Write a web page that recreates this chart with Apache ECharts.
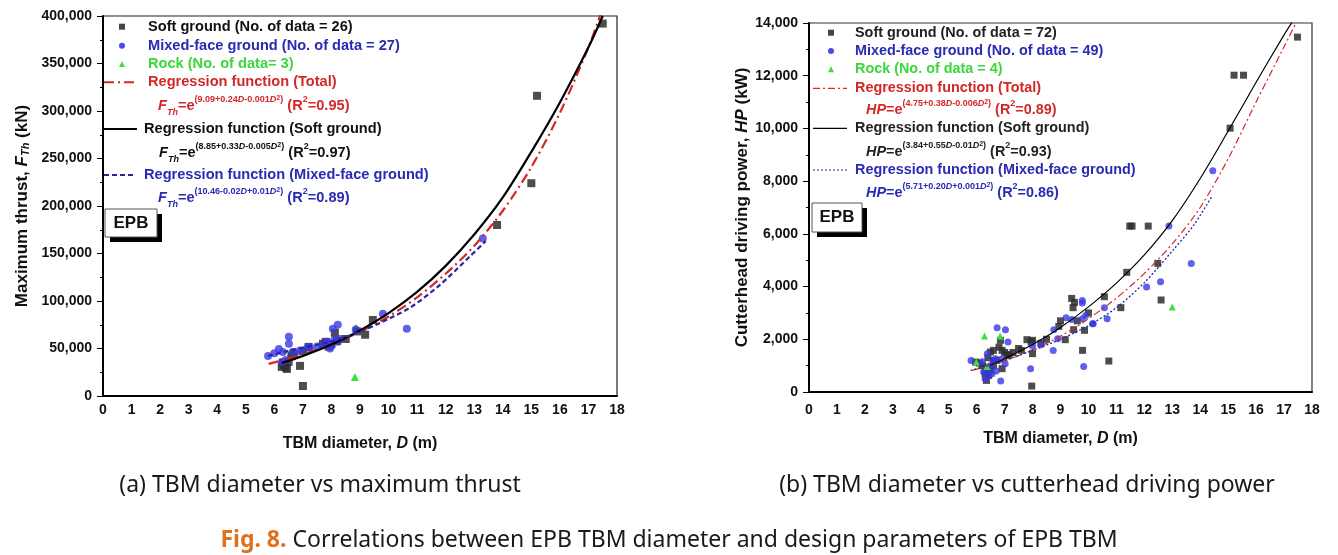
<!DOCTYPE html>
<html><head><meta charset="utf-8">
<script src="https://cdn.jsdelivr.net/npm/echarts@6/dist/echarts.min.js"></script>
<style>html,body{margin:0;padding:0;background:#fff}#c{width:1338px;height:555px}</style>
</head><body><div id="c"></div>
<script>
// ---------- data: (a) TBM diameter vs maximum thrust ----------
const thrustSoft = [[17.5,392000],[15.2,316000],[15.0,224000],[13.8,180000],[9.45,80000],[9.18,64500],[8.12,66500],[6.9,31700],[7.0,10500],[6.26,30600],[6.44,28500],[6.34,32700],[7.2,51700],[6.5,36000],[8.0,55000],[7.9,52000],[7.8,57000],[6.6,42000],[8.2,58000],[7.0,47000],[6.3,35000],[8.5,60000],[6.7,44000],[6.4,30000],[8.9,68000],[7.7,55000]];
const thrustMixed = [[5.78,42200],[6.16,49600],[6.3,46400],[6.51,62300],[6.51,54900],[6.65,46400],[7.18,51700],[7.25,50600],[7.84,57000],[7.9,55000],[8.0,53000],[8.05,70700],[8.22,74900],[8.22,57000],[9.8,86500],[10.64,70700],[6.27,35900],[13.3,165700],[7.95,50000],[8.1,59000],[6.4,38000],[7.7,54000],[8.3,60000],[6.9,48000],[7.5,52000],[6.0,45000],[8.85,70000]];
const thrustRock = [[8.86,71800],[8.82,20000],[6.58,46400]];
const thrustRegTotal = [[5.8,33800],[7,43800],[8,54300],[9,67500],[10,83700],[11,103800],[12,128700],[13,158000],[14,195000],[15,241000],[16,298000],[17,367000],[17.45,404000]];
const thrustRegSoft = [[6.27,34900],[7,42200],[8,54200],[9,69000],[10,87300],[11,109600],[12,137000],[13,170000],[14,209000],[15,257000],[16,309000],[17,367000],[17.5,400000]];
const thrustRegMixed = [[5.78,42200],[6.8,49600],[7.95,57000],[8.9,66500],[9.7,77000],[10.75,93000],[11.8,117000],[12.85,147000],[13.4,163000]];

// ---------- data: (b) TBM diameter vs cutterhead driving power ----------
const powerSoft = [[17.48,13465],[15.21,12020],[15.55,12020],[15.07,10010],[11.48,6295],[11.56,6295],[12.14,6295],[12.48,4880],[11.37,4540],[10.57,3615],[11.16,3200],[12.6,3490],[9.86,2340],[9.79,1580],[10.73,1175],[9.45,3200],[9.4,3550],[9.5,3400],[9.17,1985],[9.47,2365],[8.94,2490],[8.0,1960],[7.95,1895],[7.8,1985],[8.0,1455],[7.97,225],[7.6,1580],[7.16,1425],[6.85,1960],[6.91,1580],[6.6,1580],[6.49,1515],[6.91,885],[6.35,440],[6.43,630],[6.73,1200],[7.09,1390],[5.96,1135],[6.35,945],[6.6,1200],[6.2,1000],[6.5,800],[7.3,1500],[8.5,2000],[9.0,2700],[9.6,2700],[10.0,3000],[6.8,1700],[7.0,1500],[6.3,700],[6.1,1100],[6.6,1000],[7.5,1650],[8.3,1850],[6.4,1300]];
const powerMixed = [[14.45,8396],[12.88,6295],[13.68,4879],[12.08,3981],[12.58,4185],[10.57,3198],[10.67,2781],[10.15,2591],[9.78,3475],[9.78,3373],[9.78,2781],[9.83,971],[6.73,2440],[7.03,2364],[7.12,1893],[6.38,1453],[6.68,1263],[6.86,421],[7.93,884],[8.3,1795],[8.74,1578],[8.76,2364],[8.9,2022],[9.2,2819],[10.17,2591],[5.8,1199],[6.25,755],[6.43,630],[6.55,694],[6.37,884],[6.6,1199],[7.02,1074],[9.4,2750],[8.0,1750],[6.5,1000],[6.2,1150],[6.9,1250],[6.3,500],[6.7,800],[9.9,2900]];
const powerRock = [[6.28,2121],[6.84,2121],[5.99,1134],[6.37,971],[13.0,3221]];
const powerRegTotal = [[5.84,820],[7,1180],[8,1600],[9,2120],[10,2780],[11,3560],[12,4500],[13,5620],[14,7000],[15,8850],[16,11000],[17,13100],[17.45,14050]];
const powerRegSoft = [[6.48,1010],[7,1260],[8,1800],[9,2450],[10,3230],[11,4130],[12,5200],[13,6500],[14,8100],[15,9900],[16,11750],[17,13550],[17.3,14050]];
const powerRegMixed = [[5.78,820],[7,1200],[8,1580],[9,2000],[10,2520],[11,3200],[12,4150],[13,5350],[13.78,6350],[14.43,7450]];

const xMin = 0, xMax = 18, xStep = 1;
const thrustMax = 400000, thrustStep = 50000;
const powerMax = 14000, powerStep = 2000;

// ---------- styles ----------
const FONT = 'Liberation Sans, Arial, Helvetica, sans-serif';
const CAP_FONT = 'Noto Sans, Open Sans, sans-serif';
const C_SOFT = '#2e2e2e', C_MIX = '#3838e6', C_ROCK = '#3ee03e', C_RED = '#d42828', C_BLUE = '#2626a6', C_BLUE_T = '#2a2ab4';
const commas = v => String(v).replace(/\B(?=(\d{3})+(?!\d))/g, ',');

function xAx(gi, nameGap, labelMargin) {
  return {
    gridIndex: gi, type: 'value', min: xMin, max: xMax, interval: xStep,
    name: 'TBM diameter, {i|D} (m)', nameLocation: 'middle', nameGap: nameGap,
    nameTextStyle: {fontFamily: FONT, fontSize: 16, fontWeight: 'bold', color: '#111',
      rich: {i: {fontFamily: FONT, fontSize: 16, fontWeight: 'bold', fontStyle: 'italic', color: '#111'}}},
    axisLine: {show: true, lineStyle: {color: '#000', width: 2}},
    axisTick: {show: false},
    axisLabel: {fontFamily: FONT, fontSize: 14, fontWeight: 'bold', color: '#111', margin: labelMargin},
    splitLine: {show: false}
  };
}
function yAx(gi, max, step, name, nameGap, rich) {
  return {
    gridIndex: gi, type: 'value', min: 0, max: max, interval: step,
    name: name, nameLocation: 'middle', nameGap: nameGap, nameRotate: 90,
    nameTextStyle: {fontFamily: FONT, fontSize: 17, fontWeight: 'bold', color: '#111', rich: rich},
    axisLine: {show: true, lineStyle: {color: '#000', width: 2}},
    axisTick: {show: true, inside: false, length: 6, lineStyle: {color: '#000', width: 1}},
    minorTick: {show: true, splitNumber: 2, length: 3, lineStyle: {color: '#000', width: 1}},
    axisLabel: {fontFamily: FONT, fontSize: 14, fontWeight: 'bold', color: '#111', margin: 11, formatter: commas},
    splitLine: {show: false}, minorSplitLine: {show: false}
  };
}
const nameRichBold = {
  i: {fontFamily: FONT, fontSize: 17, fontWeight: 'bold', fontStyle: 'italic', color: '#111'},
  s: {fontFamily: FONT, fontSize: 11, fontWeight: 'bold', fontStyle: 'italic', color: '#111', verticalAlign: 'bottom', lineHeight: 10}
};

function scatter(xi, data, symbol, size, color, opacity, z) {
  return {type: 'scatter', xAxisIndex: xi, yAxisIndex: xi, data: data, symbol: symbol, symbolSize: size,
    itemStyle: {color: color, opacity: opacity}, z: z, silent: true};
}
function curve(xi, data, color, width, type) {
  return {type: 'line', xAxisIndex: xi, yAxisIndex: xi, data: data, smooth: 0.3, showSymbol: false, symbol: 'none',
    lineStyle: {color: color, width: width, type: type}, z: 5, silent: true, clip: true};
}

// ---------- legend / annotation graphics ----------
function richFor(color, size) {
  const base = {fontFamily: FONT, fontWeight: 'bold', fill: color};
  return {
    m: Object.assign({}, base, {fontSize: size, lineHeight: 22, verticalAlign: 'middle'}),
    fi: Object.assign({}, base, {fontSize: size, fontStyle: 'italic', lineHeight: 22, verticalAlign: 'middle'}),
    sub: Object.assign({}, base, {fontSize: 9, fontStyle: 'italic', lineHeight: 11, verticalAlign: 'bottom'}),
    sp: Object.assign({}, base, {fontSize: 9, lineHeight: 12, verticalAlign: 'top'}),
    spi: Object.assign({}, base, {fontSize: 9, fontStyle: 'italic', lineHeight: 12, verticalAlign: 'top'}),
    sp2: Object.assign({}, base, {fontSize: 7, lineHeight: 7, verticalAlign: 'top'})
  };
}
function formula(x, y, lhs, sub, a, b, c, sign1, sign2, r2, color, fs) {
  let t = '{fi|' + lhs + '}' + (sub ? '{sub|' + sub + '}' : '') + '{m|=e}{sp|(' + a + sign1 + b + '}{spi|D}{sp|' + sign2 + c + '}{spi|D}{sp2|2}{sp|)}{m| (R}{sp|2}{m|=' + r2 + ')}';
  return {type: 'text', x: x, y: y, silent: true, style: {text: t, rich: richFor(color, fs), verticalAlign: 'middle', fontFamily: FONT, fontSize: fs, fontWeight: 'bold', fill: color}};
}
function label(x, y, text, color, fs) {
  return {type: 'text', x: x, y: y, silent: true, style: {text: text, fontFamily: FONT, fontSize: fs, fontWeight: 'bold', fill: color, verticalAlign: 'middle'}};
}
function sq(x, y, s, color) { return {type: 'rect', silent: true, shape: {x: x - s / 2, y: y - s / 2, width: s, height: s}, style: {fill: color}}; }
function dot(x, y, r, color) { return {type: 'circle', silent: true, shape: {cx: x, cy: y, r: r}, style: {fill: color}}; }
function tri(x, y, s, color) { return {type: 'polygon', silent: true, shape: {points: [[x, y - s / 2], [x + s / 2, y + s / 2], [x - s / 2, y + s / 2]]}, style: {fill: color}}; }
function seg(x1, x2, y, color, w, dash) { return {type: 'line', silent: true, shape: {x1: x1, y1: y, x2: x2, y2: y}, style: {stroke: color, lineWidth: w, lineDash: dash}}; }
function epb(x, y, w, h, fs) {
  return [
    {type: 'rect', silent: true, shape: {x: x + 5, y: y + 5, width: w, height: h}, style: {fill: '#000'}},
    {type: 'rect', silent: true, shape: {x: x, y: y, width: w, height: h}, style: {fill: '#fff', stroke: '#555', lineWidth: 1}},
    {type: 'text', silent: true, x: x + w / 2, y: y + h / 2, style: {text: 'EPB', fontFamily: FONT, fontSize: fs, fontWeight: 'bold', fill: '#111', align: 'center', verticalAlign: 'middle'}}
  ];
}

const LF = 14.6, RF = 14.4;
const graphics = [].concat(
  // left legend
  [sq(122, 26.7, 6, '#444'), dot(122, 45.7, 3, '#4a4ae8'), tri(122, 64, 6, C_ROCK),
   label(148, 26.7, 'Soft ground (No. of data = 26)', '#111', LF),
   label(148, 45.7, 'Mixed-face ground (No. of data = 27)', C_BLUE_T, LF),
   label(148, 64, 'Rock (No. of data= 3)', '#3dd63d', LF),
   seg(104, 138, 82.3, C_RED, 2, [10, 4, 2, 4]),
   label(148, 82.3, 'Regression function (Total)', C_RED, LF),
   formula(158, 106, 'F', 'Th', '9.09', '0.24', '0.001', '+', '-', '0.95', C_RED, LF),
   seg(104, 137, 129, '#000', 2, null),
   label(144, 129, 'Regression function (Soft ground)', '#111', LF),
   formula(159, 153, 'F', 'Th', '8.85', '0.33', '0.005', '+', '-', '0.97', '#111', LF),
   seg(104, 135, 175, C_BLUE, 2, [5, 3]),
   label(144, 175, 'Regression function (Mixed-face ground)', C_BLUE_T, LF),
   formula(158, 198, 'F', 'Th', '10.46', '0.02', '0.01', '-', '+', '0.89', C_BLUE_T, LF)],
  epb(105, 209, 52, 28, 17),
  // right legend
  [sq(831, 32.7, 6, '#444'), dot(831, 51, 3, '#4a4ae8'), tri(831, 69.3, 6, C_ROCK),
   label(855, 32.7, 'Soft ground (No. of data = 72)', '#222', RF),
   label(855, 51, 'Mixed-face ground (No. of data = 49)', C_BLUE_T, RF),
   label(855, 69.3, 'Rock (No. of data = 4)', '#3dd63d', RF),
   seg(813, 847, 88.3, C_RED, 1.2, [7, 3, 2, 3]),
   label(855, 88.3, 'Regression function (Total)', C_RED, RF),
   formula(866, 110, 'HP', null, '4.75', '0.38', '0.006', '+', '-', '0.89', C_RED, RF),
   seg(813, 847, 128.3, '#000', 1.2, null),
   label(855, 128.3, 'Regression function (Soft ground)', '#222', RF),
   formula(866, 151.7, 'HP', null, '3.84', '0.55', '0.01', '+', '-', '0.93', '#222', RF),
   seg(813, 847, 170, C_BLUE, 1.2, [2, 2]),
   label(855, 170, 'Regression function (Mixed-face ground)', C_BLUE_T, RF),
   formula(866, 192.7, 'HP', null, '5.71', '0.20', '0.001', '+', '+', '0.86', C_BLUE_T, RF)],
  epb(812, 203, 50, 29, 17),
  // captions
  [{type: 'text', silent: true, x: 320, y: 485, style: {text: '(a) TBM diameter vs maximum thrust', fontFamily: CAP_FONT, fontSize: 23, fill: '#1a1a1a', align: 'center', verticalAlign: 'middle'}},
   {type: 'text', silent: true, x: 1027, y: 485, style: {text: '(b) TBM diameter vs cutterhead driving power', fontFamily: CAP_FONT, fontSize: 23, fill: '#1a1a1a', align: 'center', verticalAlign: 'middle'}},
   {type: 'text', silent: true, x: 669, y: 540, style: {
     text: '{o|Fig. 8.} {n|Correlations between EPB TBM diameter and design parameters of EPB TBM}',
     align: 'center', verticalAlign: 'middle', fontFamily: CAP_FONT, fontSize: 23,
     rich: {o: {fontFamily: CAP_FONT, fontSize: 23, fontWeight: 'bold', fill: '#e0701c'},
            n: {fontFamily: CAP_FONT, fontSize: 23, fill: '#1a1a1a'}}}}]
);

const chart = echarts.init(document.getElementById('c'), null, {renderer: 'canvas'});
chart.setOption({
  animation: false,
  backgroundColor: '#fff',
  grid: [
    {left: 103, top: 16, width: 514, height: 380, show: true, borderColor: '#222', borderWidth: 1.2, backgroundColor: 'transparent'},
    {left: 809, top: 23, width: 503, height: 369, show: true, borderColor: '#333', borderWidth: 1.2, backgroundColor: 'transparent'}
  ],
  xAxis: [xAx(0, 40, 7), xAx(1, 39, 11)],
  yAxis: [
    yAx(0, thrustMax, thrustStep, 'Maximum thrust, {i|F}{s|Th} (kN)', 72, nameRichBold),
    yAx(1, powerMax, powerStep, 'Cutterhead driving power, {i|HP} (kW)', 58, nameRichBold)
  ],
  series: [
    scatter(0, thrustRock, 'triangle', 8, C_ROCK, 1, 2),
    scatter(0, thrustSoft, 'rect', 8, C_SOFT, 0.85, 3),
    scatter(0, thrustMixed, 'circle', 8, C_MIX, 0.8, 4),
    curve(0, thrustRegTotal, C_RED, 2.2, [10, 4, 2, 4]),
    curve(0, thrustRegSoft, '#000', 2.2, 'solid'),
    curve(0, thrustRegMixed, C_BLUE, 2.2, [5, 3]),
    scatter(1, powerSoft, 'rect', 7, C_SOFT, 0.85, 3),
    scatter(1, powerMixed, 'circle', 7, C_MIX, 0.8, 4),
    scatter(1, powerRock, 'triangle', 7, C_ROCK, 1, 4),
    curve(1, powerRegTotal, C_RED, 1.2, [7, 3, 2, 3]),
    curve(1, powerRegSoft, '#000', 1.2, 'solid'),
    curve(1, powerRegMixed, C_BLUE, 1.3, [2, 2])
  ],
  graphic: graphics
});
</script></body></html>
